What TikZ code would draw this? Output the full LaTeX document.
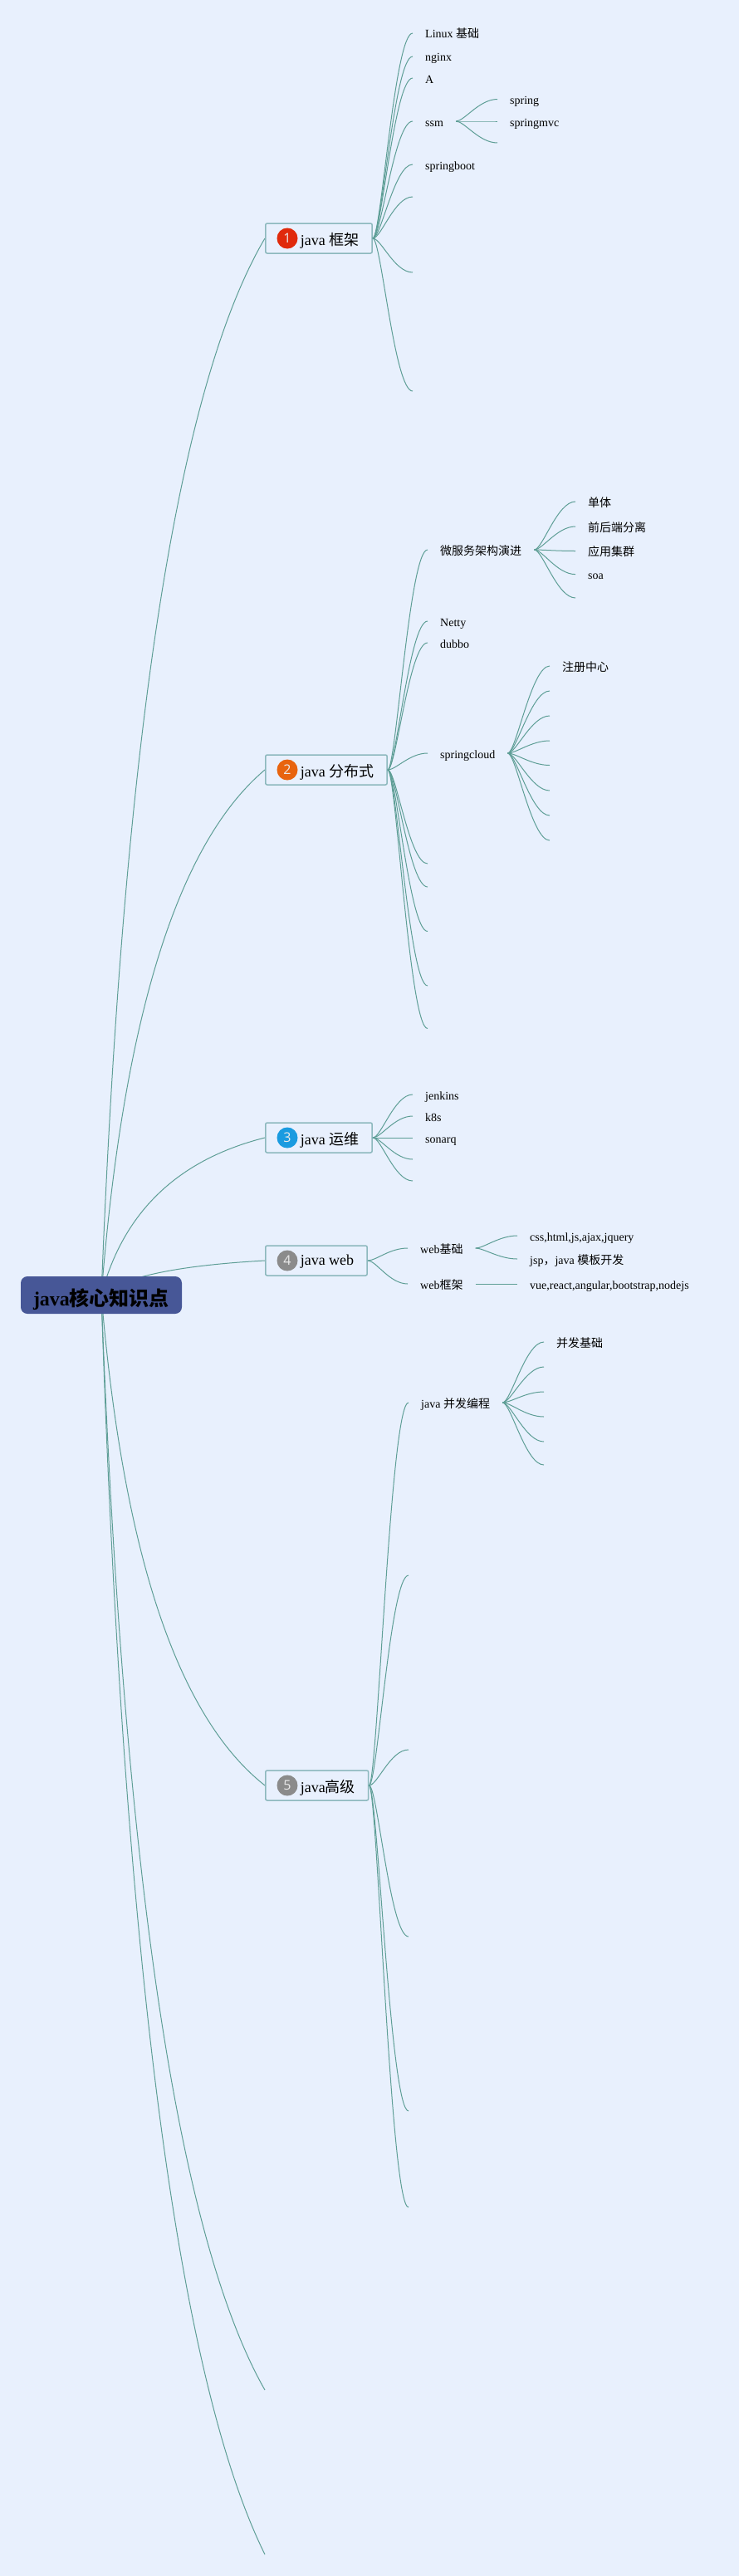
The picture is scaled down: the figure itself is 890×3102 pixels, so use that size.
\documentclass[tikz,border=0pt]{standalone}
\usepackage{fontspec}
\setmainfont{Liberation Serif}
\newfontfamily\zhfont{Noto Sans CJK SC}
\newfontfamily\numfont{Open Sans}
\newcommand{\zh}[1]{{\zhfont #1}}
\usetikzlibrary{calc,backgrounds}
\definecolor{PageClr}{rgb}{0.91,0.941,0.992}
\definecolor{RootClr}{rgb}{0.278,0.341,0.592}
\definecolor{LineClr}{rgb}{0.37,0.62,0.59}
\definecolor{BoxClr}{rgb}{0.55,0.72,0.74}
\definecolor{OneClr}{rgb}{0.878,0.165,0.047}
\definecolor{TwoClr}{rgb}{0.91,0.392,0.059}
\definecolor{ThreeClr}{rgb}{0.102,0.608,0.878}
\definecolor{GreyClr}{rgb}{0.545,0.545,0.545}
\tikzset{
  rootnode/.style={fill=RootClr,rounded corners=8pt,minimum width=194pt,inner ysep=4pt,
    text height=31pt,text depth=6pt,font=\fontsize{24}{28}\selectfont\bfseries},
  topic/.style={draw=BoxClr,line width=1.5pt,rounded corners=2pt,anchor=west,inner xsep=16pt,inner ysep=6pt,
    text height=20pt,text depth=4pt,font=\fontsize{18}{22}\selectfont},
  badge/.style={circle,minimum size=25pt,inner sep=0pt,text=white!92!black,font=\numfont\fontsize{16}{18}\selectfont},
  leaf/.style={anchor=west,inner xsep=15pt,inner ysep=0pt,text height=16pt,text depth=4pt,font=\fontsize{14}{16}\selectfont},
  trunk/.style={draw=LineClr,line width=1pt,to path={
    .. controls ($(\tikztostart)!.667!($(\tikztostart |- \tikztotarget)!.21!(\tikztostart)+.2*(\tikztotarget)-.2*(\tikztostart |- \tikztotarget)$)$)
    and ($(\tikztotarget)!.667!($(\tikztostart |- \tikztotarget)!.21!(\tikztostart)+.2*(\tikztotarget)-.2*(\tikztostart |- \tikztotarget)$)$) .. (\tikztotarget)}},
  twig/.style={draw=LineClr,line width=1pt,to path={
    .. controls ($(\tikztostart)+(10,0)$) and ($(\tikztotarget)+(-22,0)$) .. (\tikztotarget)}}
}

\begin{document}
\begin{tikzpicture}[x=1pt,y=-1pt]
\useasboundingbox (0,0) rectangle (890,3102);

\node[rootnode] (root) at (122,1559.5) {java\zh{核心知识点}};

\node[topic] (frame) at (319,287) {\hspace*{26pt}java \zh{框架}};
\node[topic] (dist) at (319,927) {\hspace*{26pt}java \zh{分布式}};
\node[topic] (ops) at (319,1370) {\hspace*{26pt}java \zh{运维}};
\node[topic] (web) at (319,1518) {\hspace*{26pt}\raisebox{3pt}{java web}};
\node[topic] (adv) at (319,2150) {\hspace*{26pt}java\zh{高级}};

\node[badge,fill=OneClr] (frameNo) at ($(frame.west)+(27,0)$) {1};
\node[badge,fill=TwoClr] (distNo) at ($(dist.west)+(27,0)$) {2};
\node[badge,fill=ThreeClr] (opsNo) at ($(ops.west)+(27,0)$) {3};
\node[badge,fill=GreyClr] (webNo) at ($(web.west)+(27,0)$) {4};
\node[badge,fill=GreyClr] (advNo) at ($(adv.west)+(27,0)$) {5};

\coordinate (tailA) at (319,2878);
\coordinate (tailB) at (319,3076);

\begin{pgfonlayer}{background}
\fill[PageClr] (0,0) rectangle (890,3102);
\foreach \t in {frame.west,dist.west,ops.west,web.west,adv.west,tailA,tailB}
  \draw[trunk] (root.center) to (\t);
\end{pgfonlayer}

% java frame
\node[leaf] (linux) at (497,40) {Linux \zh{基础}};
\node[leaf] (nginx) at (497,68) {nginx};
\node[leaf] (a) at (497,94) {A};
\node[leaf] (ssm) at (497,146) {ssm};
\node[leaf] (boot) at (497,198) {springboot};
\foreach \t in {linux,nginx,a,ssm,boot}
  \draw[twig] (frame.east) to (\t.west);
\foreach \y [count=\i] in {237,328,471} {
  \coordinate (frameEnd\i) at (497,\y);
  \draw[twig] (frame.east) to (frameEnd\i);
}
\node[leaf] (spring) at (599,119.5) {spring};
\node[leaf] (mvc) at (599,146) {springmvc};
\coordinate (ssmEnd) at (599,172);
\draw[twig] (ssm.east) to (spring.west);
\draw[twig] (ssm.east) to (mvc.west);
\draw[twig] (ssm.east) to (ssmEnd);

% java dist
\node[leaf] (micro) at (515,662) {\zh{微服务架构演进}};
\node[leaf] (netty) at (515,748) {Netty};
\node[leaf] (dubbo) at (515,774) {dubbo};
\node[leaf] (cloud) at (515,907) {springcloud};
\foreach \t in {micro,netty,dubbo,cloud}
  \draw[twig] (dist.east) to (\t.west);
\foreach \y [count=\i] in {1040,1068,1121.5,1187,1238.5} {
  \coordinate (distEnd\i) at (515,\y);
  \draw[twig] (dist.east) to (distEnd\i);
}
\node[leaf] (single) at (693,604) {\zh{单体}};
\node[leaf] (split) at (693,634) {\zh{前后端分离}};
\node[leaf] (cluster) at (693,663.5) {\zh{应用集群}};
\node[leaf] (soa) at (693,691.6) {soa};
\coordinate (microEnd) at (693,720);
\foreach \t in {single.west,split.west,cluster.west,soa.west,microEnd}
  \draw[twig] (micro.east) to (\t);
\node[leaf] (registry) at (662,802) {\zh{注册中心}};
\draw[twig] (cloud.east) to (registry.west);
\foreach \y [count=\i] in {832,862,892,921.5,952,982,1012} {
  \coordinate (cloudEnd\i) at (662,\y);
  \draw[twig] (cloud.east) to (cloudEnd\i);
}

% java ops
\node[leaf] (jenkins) at (497,1318) {jenkins};
\node[leaf] (k8s) at (497,1344) {k8s};
\node[leaf] (sonarq) at (497,1370) {sonarq};
\coordinate (opsEndA) at (497,1396);
\coordinate (opsEndB) at (497,1422);
\foreach \t in {jenkins.west,k8s.west,sonarq.west,opsEndA,opsEndB}
  \draw[twig] (ops.east) to (\t);

% java web
\node[leaf] (base) at (491,1503) {web\zh{基础}};
\node[leaf] (webfw) at (491,1546) {web\zh{框架}};
\draw[twig] (web.east) to (base.west);
\draw[twig] (web.east) to (webfw.west);
\node[leaf] (css) at (623,1488) {css,html,js,ajax,jquery};
\node[leaf] (jsp) at (623,1516) {jsp\zh{，}java \zh{模板开发}};
\node[leaf] (vue) at (623,1546) {vue,react,angular,bootstrap,nodejs};
\draw[twig] (base.east) to (css.west);
\draw[twig] (base.east) to (jsp.west);
\draw[twig] (webfw.east) to (vue.west);

% java adv
\node[leaf] (conc) at (492,1689) {java \zh{并发编程}};
\draw[twig] (adv.east) to (conc.west);
\foreach \y [count=\i] in {1897,2107,2332,2542,2658} {
  \coordinate (advEnd\i) at (492,\y);
  \draw[twig] (adv.east) to (advEnd\i);
}
\node[leaf] (concbase) at (655,1616) {\zh{并发基础}};
\draw[twig] (conc.east) to (concbase.west);
\foreach \y [count=\i] in {1646,1676,1706,1736,1764} {
  \coordinate (concEnd\i) at (655,\y);
  \draw[twig] (conc.east) to (concEnd\i);
}
\end{tikzpicture}
\end{document}
